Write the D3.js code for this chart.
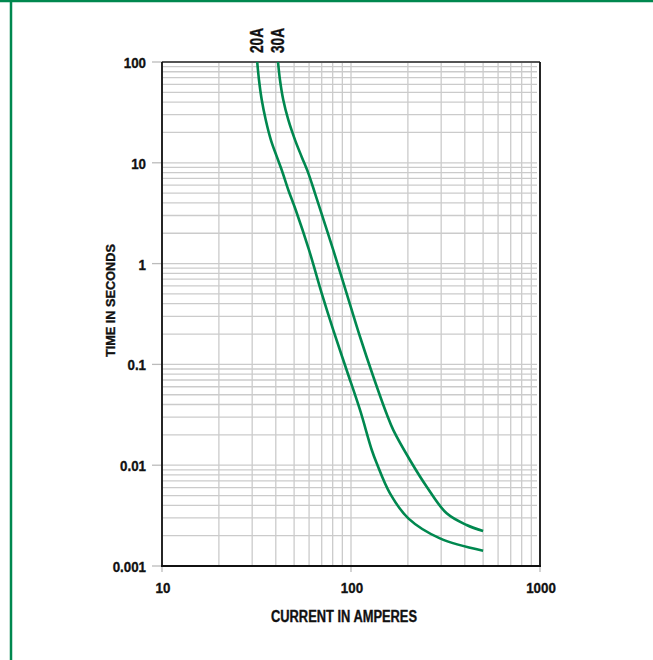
<!DOCTYPE html>
<html>
<head>
<meta charset="utf-8">
<script src="https://cdn.jsdelivr.net/npm/d3@7"></script>
<style>
  body { margin: 0; background: #fff; }
  text { font-family: "Liberation Sans", Arial, sans-serif; font-weight: bold; fill: #111; stroke: #111; stroke-width: 0.35px; }
</style>
</head>
<body>
<svg></svg>
<script>
// fuse curve data (amperes, seconds)
var amps20 = [31.9, 32.6, 33.7, 35.4, 37.7, 40.5, 43.0, 46.6, 51.0, 60.0, 70.0, 80.6, 94.8, 111.6, 128.8, 136.8, 160.8, 201, 295.6, 500];
var secs20 = [100, 66.3, 42.2, 26.6, 16.8, 11.5, 8.48, 5.37, 3.40, 1.36, 0.507, 0.219, 0.088, 0.0353, 0.01416, 0.01045, 0.00526, 0.00297, 0.00188, 0.00142];

var amps30 = [41.1, 42.1, 43.8, 46.6, 50.6, 54.8, 59.5, 64.5, 80.6, 94.8, 111.6, 131.3, 154.5, 167.5, 205, 251.5, 320.7, 409, 500];
var secs30 = [100, 66.3, 42.2, 26.6, 16.8, 11.5, 7.86, 4.98, 1.36, 0.507, 0.188, 0.0755, 0.0322, 0.0223, 0.01127, 0.00612, 0.00333, 0.00255, 0.00222];

var curveLabels = ["20A", "30A"];
var xTicks = [10, 100, 1000];
var yTicks = [100, 10, 1, 0.1, 0.01, 0.001];
var yTickLabels = ["100", "10", "1", "0.1", "0.01", "0.001"];

var green = "#00884f";

var margin = { top: 62, right: 113, bottom: 94, left: 162 },
  width = 653 - margin.left - margin.right,
  height = 660 - margin.top - margin.bottom;

var svg = d3.select("svg")
  .attr("width", 653)
  .attr("height", 660);

// squeeze text horizontally, the original uses a condensed face
function condense(sel, k) {
  sel.each(function () {
    var w = this.getComputedTextLength();
    d3.select(this).attr("textLength", w * k).attr("lengthAdjust", "spacingAndGlyphs");
  });
}

// green frame
svg.append("line").attr("x1", 0).attr("x2", 653).attr("y1", 1).attr("y2", 1)
  .attr("stroke", green).attr("stroke-width", 2.5);
svg.append("line").attr("x1", 11).attr("x2", 11).attr("y1", 0).attr("y2", 660)
  .attr("stroke", green).attr("stroke-width", 2.5);

var g = svg.append("g")
  .attr("transform", "translate(" + margin.left + "," + margin.top + ")");

var x = d3.scaleLog().domain([10, 1000]).range([0, width]);
var y = d3.scaleLog().domain([0.001, 100]).range([height, 0]);

// all log grid values
var xGrid = x.ticks();
var yGrid = y.ticks();

g.append("g").selectAll("line").data(xGrid).enter().append("line")
  .attr("x1", d => x(d)).attr("x2", d => x(d))
  .attr("y1", 0).attr("y2", height)
  .attr("stroke", "#cbcbcb").attr("stroke-width", 1.3);

g.append("g").selectAll("line").data(yGrid).enter().append("line")
  .attr("x1", 0).attr("x2", width - 3)
  .attr("y1", d => y(d)).attr("y2", d => y(d))
  .attr("stroke", "#cbcbcb").attr("stroke-width", 1.3);

// tick marks outside the frame
g.append("g").selectAll("line").data(yTicks).enter().append("line")
  .attr("x1", -10).attr("x2", 0)
  .attr("y1", d => y(d)).attr("y2", d => y(d))
  .attr("stroke", "#bbb").attr("stroke-width", 1.3);

g.append("g").selectAll("line").data(xTicks).enter().append("line")
  .attr("x1", d => x(d)).attr("x2", d => x(d))
  .attr("y1", height).attr("y2", height + 6)
  .attr("stroke", "#bbb").attr("stroke-width", 1.3);

// frame of the plot
g.append("line").attr("x1", 0).attr("x2", width).attr("y1", 0).attr("y2", 0)
  .attr("stroke", "#555").attr("stroke-width", 2);
g.append("line").attr("x1", 0).attr("x2", 0).attr("y1", 0).attr("y2", height)
  .attr("stroke", "#111").attr("stroke-width", 1.8);
g.append("line").attr("x1", width).attr("x2", width).attr("y1", 0).attr("y2", height)
  .attr("stroke", "#111").attr("stroke-width", 1.8);
g.append("line").attr("x1", -1).attr("x2", width + 1).attr("y1", height).attr("y2", height)
  .attr("stroke", "#111").attr("stroke-width", 1.8);

// tick labels
g.append("g").selectAll("text").data(yTicks).enter().append("text")
  .attr("x", -16).attr("y", d => y(d) + 6)
  .attr("text-anchor", "end")
  .style("font-size", "15.5px")
  .text((d, i) => yTickLabels[i])
  .call(condense, 0.86);

g.append("g").selectAll("text").data(xTicks).enter().append("text")
  .attr("x", d => x(d) + 1).attr("y", height + 27)
  .attr("text-anchor", "middle")
  .style("font-size", "15.5px")
  .text(d => d)
  .call(condense, 0.86);

// axis titles
g.append("text")
  .attr("x", 182).attr("y", height + 55.5)
  .attr("text-anchor", "middle")
  .style("font-size", "16px")
  .text("CURRENT IN AMPERES")
  .attr("textLength", 146).attr("lengthAdjust", "spacingAndGlyphs");

g.append("text")
  .attr("transform", "translate(-47.5," + (y(1) + 37) + ") rotate(-90)")
  .attr("text-anchor", "middle")
  .style("font-size", "12px")
  .text("TIME IN SECONDS")
  .attr("textLength", 113).attr("lengthAdjust", "spacingAndGlyphs");

// curves
var line = d3.line()
  .x(d => x(d[0]))
  .y(d => y(d[1]))
  .curve(d3.curveCatmullRom.alpha(0.5));

var series = [d3.zip(amps20, secs20), d3.zip(amps30, secs30)];

g.selectAll(".curve").data(series).enter().append("path")
  .attr("class", "curve")
  .attr("d", line)
  .attr("fill", "none")
  .attr("stroke", green)
  .attr("stroke-width", 2.6);

// rating labels above the curve starts
g.selectAll(".rating").data(series).enter().append("text")
  .attr("class", "rating")
  .attr("transform", (d, i) => "translate(" + (x(d[0][0]) + 6) + ",-9) rotate(-90)")
  .style("font-size", "18px")
  .text((d, i) => curveLabels[i])
  .call(condense, 0.76);
</script>
</body>
</html>
